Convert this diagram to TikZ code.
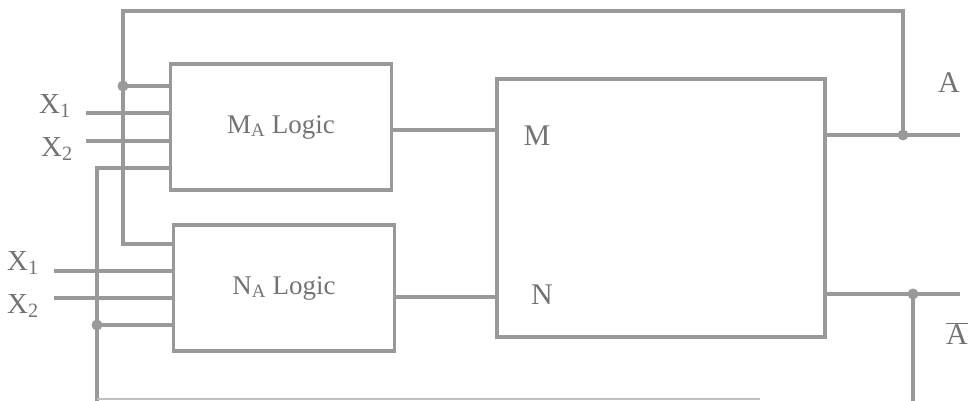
\documentclass[tikz,border=0pt]{standalone}
\usepackage{fontspec}
\setmainfont{Liberation Serif}
\begin{document}
\begin{tikzpicture}[x=1pt,y=-1pt,
  wire/.style={draw=black!40,line width=3.2pt,line cap=rect},
  faint/.style={draw=black!25,line width=1.5pt},
  logicbox/.style={draw=black!40,line width=3.2pt,rectangle,inner sep=0pt,outer sep=0pt,
     font=\fontsize{27}{29}\selectfont,text=black!55},
  lbl/.style={inner sep=0pt,text=black!55,font=\fontsize{30}{32}\selectfont},
  xlbl/.style={inner sep=0pt,text=black!55,font=\fontsize{29}{31}\selectfont},
  jdot/.style={circle,fill=black!40,inner sep=0pt,minimum size=11pt}]
\useasboundingbox (0,0) rectangle (970,401);

% boxes
\node[logicbox,minimum width=221pt,minimum height=126pt] (ma) at (281,127) {M\textsubscript{A} Logic};
\node[logicbox,minimum width=221pt,minimum height=126pt] (na) at (284,288) {N\textsubscript{A} Logic};
\node[logicbox,minimum width=328pt,minimum height=258pt] (big) at (661,208) {};

% labels inside big box
\node[lbl] (lm) at (537,136) {M};
\node[lbl] (ln) at (542,295) {N};

% junction coordinates
\coordinate (d1) at (123,86);
\coordinate (d2) at (97,325);
\coordinate (d3) at (903,135);
\coordinate (d4) at (913,294);
\coordinate (tl) at (123,11);
\coordinate (nl) at (123,244);
\coordinate (m1) at (88,113);
\coordinate (m2) at (88,141);
\coordinate (m4) at (97,168);
\coordinate (n1) at (56,271);
\coordinate (n2) at (56,298);
\coordinate (bl) at (97,399);
\coordinate (br) at (760,399);
\coordinate (ao) at (958,135);
\coordinate (bo) at (958,294);
\coordinate (bb) at (913,401);

% left loop from A
\draw[wire] (d3) |- (tl) -- (nl) -- (nl -| na.west);
\draw[wire] (d1) -- (d1 -| ma.west);
% M inputs
\draw[wire] (m1) -- (m1 -| ma.west);
\draw[wire] (m2) -- (m2 -| ma.west);
\draw[wire] (m4 -| ma.west) -- (m4) -- (bl);
% N inputs
\draw[wire] (n1) -- (n1 -| na.west);
\draw[wire] (n2) -- (n2 -| na.west);
\draw[wire] (d2) -- (d2 -| na.west);
% bottom (faint, cropped)
\draw[faint] (bl) -- (br);

% box to box
\draw[wire] (ma.east |- 0,130) -- (big.west |- 0,130);
\draw[wire] (na.east |- 0,297) -- (big.west |- 0,297);

% outputs
\draw[wire] (big.east |- ao) -- (ao);
\draw[wire] (big.east |- bo) -- (bo);
\draw[wire] (d4) -- (bb);

% dots
\node[jdot] (j1) at (d1) {};
\node[jdot] (j2) at (d2) {};
\node[jdot] (j3) at (d3) {};
\node[jdot] (j4) at (d4) {};

% input labels
\node[xlbl] (xm1) at (55,106) {X\textsubscript{1}};
\node[xlbl] (xm2) at (57,149) {X\textsubscript{2}};
\node[xlbl] (xn1) at (23,263) {X\textsubscript{1}};
\node[xlbl] (xn2) at (23,306) {X\textsubscript{2}};

% output labels
\node[lbl] (oa) at (949,83) {A};
\node[lbl] (ob) at (957,334) {$\overline{\mbox{A}}$};
\end{tikzpicture}
\end{document}
